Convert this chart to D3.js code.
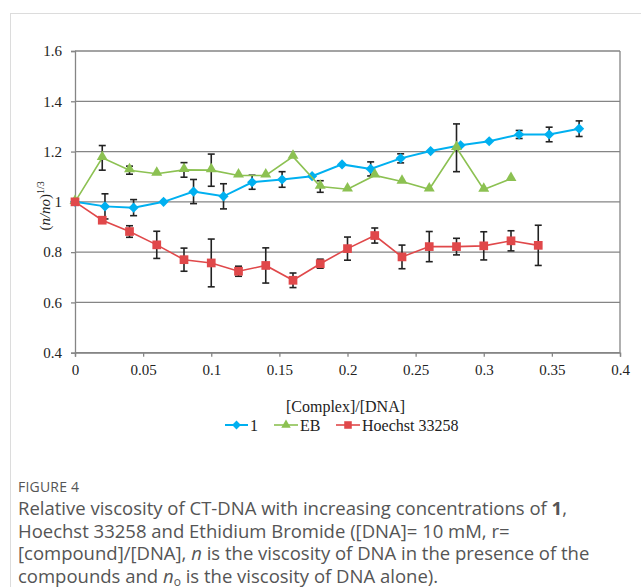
<!DOCTYPE html>
<html>
<head>
<meta charset="utf-8">
<script src="https://cdn.jsdelivr.net/npm/d3@7"></script>
<style>
  body { margin: 0; background: #fff; }
  #card { position: absolute; left: 10px; top: 13px; width: 700px; height: 620px;
          border-top: 1px solid #dcdcdc; border-left: 1px solid #dcdcdc; }
  #chart { position: absolute; left: 0; top: 0; }
  #caption { position: absolute; left: 18px; top: 476px; width: 606px;
             font-family: "Open Sans", sans-serif; color: #555; }
  #caption .fig { font-size: 14px; letter-spacing: 0.2px; line-height: 21px; }
  #caption .txt { font-size: 18.5px; line-height: 22.6px; }
  #caption sub { font-size: 12px; line-height: 0; vertical-align: -3px; }
</style>
</head>
<body>
<div id="card"></div>
<div id="chart"></div>
<div id="caption">
  <div class="fig">FIGURE 4</div>
  <div class="txt">Relative viscosity of CT-DNA with increasing concentrations of <b>1</b>, Hoechst 33258 and Ethidium Bromide ([DNA]= 10 mM, r= [compound]/[DNA], <i>n</i> is the viscosity of DNA in the presence of the compounds and <i>n</i><sub>o</sub> is the viscosity of DNA alone).</div>
</div>
<script>
// 數據
const xTicks = [0, 0.05, 0.1, 0.15, 0.2, 0.25, 0.3, 0.35, 0.4];
const yTicks = [0.4, 0.6, 0.8, 1, 1.2, 1.4, 1.6];

const x1 = [0, 0.022, 0.043, 0.065, 0.087, 0.109, 0.130, 0.152, 0.174, 0.196, 0.217, 0.239, 0.261, 0.283, 0.304, 0.326, 0.348, 0.370];
const y1 = [1.0, 0.982, 0.977, 1.0, 1.041, 1.022, 1.078, 1.089, 1.102, 1.149, 1.131, 1.173, 1.202, 1.225, 1.241, 1.268, 1.268, 1.291];
const e1 = [0.005, 0.05, 0.032, 0.008, 0.048, 0.05, 0.028, 0.031, 0.01, 0.005, 0.028, 0.018, 0.01, 0.008, 0.01, 0.016, 0.029, 0.031];

const xEB = [0, 0.02, 0.04, 0.06, 0.08, 0.10, 0.12, 0.14, 0.16, 0.18, 0.20, 0.22, 0.24, 0.26, 0.28, 0.30, 0.32];
const yEB = [1.0, 1.175, 1.126, 1.112, 1.127, 1.126, 1.105, 1.105, 1.18, 1.061, 1.05, 1.105, 1.081, 1.05, 1.215, 1.049, 1.092];
const eEB = [0, 0.049, 0.016, 0.01, 0.029, 0.064, 0, 0, 0, 0.023, 0, 0.01, 0, 0, 0.095, 0, 0.008];

const xH = [0, 0.02, 0.04, 0.06, 0.08, 0.10, 0.12, 0.14, 0.16, 0.18, 0.20, 0.22, 0.24, 0.26, 0.28, 0.30, 0.32, 0.34];
const yH = [1.0, 0.927, 0.882, 0.829, 0.770, 0.757, 0.724, 0.747, 0.688, 0.754, 0.814, 0.866, 0.781, 0.822, 0.822, 0.825, 0.845, 0.827];
const eH = [0.005, 0.01, 0.023, 0.054, 0.046, 0.095, 0.02, 0.07, 0.029, 0.018, 0.046, 0.03, 0.047, 0.06, 0.033, 0.056, 0.04, 0.08];

const seriesNames = ["1", "EB", "Hoechst 33258"];
const seriesColors = ["#00b0f0", "#8cc152", "#e0484a"];

// 設置大小
const width = 641, height = 470;
const plotL = 75, plotR = 620, plotT = 51, plotB = 352.7;

const svg = d3.select("#chart").append("svg")
    .attr("width", width).attr("height", height);

const x = d3.scaleLinear().domain([0, 0.4]).range([plotL, plotR]);
const y = d3.scaleLinear().domain([0.4, 1.6]).range([plotB, plotT]);

const serif = "'Liberation Serif', 'Times New Roman', serif";

// 網格線
svg.append("g").selectAll("line").data(yTicks).enter().append("line")
    .attr("x1", plotL).attr("x2", plotR)
    .attr("y1", d => y(d)).attr("y2", d => y(d))
    .attr("stroke", "#858585").attr("stroke-width", 1.3);

// 右邊框
svg.append("line").attr("x1", plotR).attr("x2", plotR).attr("y1", plotT).attr("y2", plotB)
    .attr("stroke", "#858585").attr("stroke-width", 1.3);

// 座標軸
const xAxis = svg.append("g").attr("transform", `translate(0,${plotB})`)
    .call(d3.axisBottom(x).tickValues(xTicks).tickSize(4).tickPadding(8)
        .tickFormat(d => String(+d.toFixed(2))));
const yAxis = svg.append("g").attr("transform", `translate(${plotL},0)`)
    .call(d3.axisLeft(y).tickValues(yTicks).tickSize(4).tickPadding(9)
        .tickFormat(d => String(+d.toFixed(1))));
[xAxis, yAxis].forEach(a => {
    a.select(".domain").attr("stroke", "#858585").attr("stroke-width", 1.3);
    a.selectAll(".tick line").attr("stroke", "#858585").attr("stroke-width", 1.3);
    a.selectAll("text").attr("font-family", serif).attr("font-size", 15).attr("fill", "#222");
});

// 軸標題
svg.append("text").attr("x", (plotL + plotR) / 2 - 2).attr("y", 412)
    .attr("text-anchor", "middle").attr("font-family", serif).attr("font-size", 16)
    .attr("fill", "#222").text("[Complex]/[DNA]");

const yt = svg.append("text").attr("transform", `translate(50,${y(1) + 4}) rotate(-90)`)
    .attr("text-anchor", "middle").attr("font-family", serif).attr("font-size", 15)
    .attr("fill", "#222");
yt.append("tspan").text("(");
yt.append("tspan").attr("font-style", "italic").text("n/no");
yt.append("tspan").text(")");
yt.append("tspan").attr("font-size", 10).attr("dy", -6).text("1/3");

// 系列
const series = [
    { xs: x1, ys: y1, es: e1, sym: d3.symbolDiamond2, size: 66, lw: 2 },
    { xs: xEB, ys: yEB, es: eEB, sym: d3.symbolTriangle, size: 52, lw: 1.6 },
    { xs: xH, ys: yH, es: eH, sym: d3.symbolSquare, size: 76, lw: 1.6 }
];
const line = d3.line().x(d => x(d[0])).y(d => y(d[1]));

series.forEach((s, i) => {
    const pts = s.xs.map((v, j) => [v, s.ys[j], s.es[j]]);
    const g = svg.append("g");
    g.append("path").datum(pts).attr("d", line)
        .attr("fill", "none").attr("stroke", seriesColors[i]).attr("stroke-width", s.lw);
    const eb = g.selectAll(".eb").data(pts.filter(d => d[2] > 0.012)).enter().append("g")
        .attr("stroke", "#222").attr("stroke-width", 1.6);
    eb.append("line").attr("x1", d => x(d[0])).attr("x2", d => x(d[0]))
        .attr("y1", d => y(d[1] - d[2])).attr("y2", d => y(d[1] + d[2]));
    eb.append("line").attr("x1", d => x(d[0]) - 3.5).attr("x2", d => x(d[0]) + 3.5)
        .attr("y1", d => y(d[1] - d[2])).attr("y2", d => y(d[1] - d[2]));
    eb.append("line").attr("x1", d => x(d[0]) - 3.5).attr("x2", d => x(d[0]) + 3.5)
        .attr("y1", d => y(d[1] + d[2])).attr("y2", d => y(d[1] + d[2]));
    g.selectAll(".m").data(pts).enter().append("path")
        .attr("d", d3.symbol().type(s.sym).size(s.size))
        .attr("transform", d => `translate(${x(d[0])},${y(d[1]) - (i === 1 ? 1 : 0)})`)
        .attr("fill", seriesColors[i]);
});

// 圖例
const legendItems = [
    { x: 225, w: 23 }, { x: 274, w: 24 }, { x: 336, w: 24 }
];
const lg = svg.append("g");
legendItems.forEach((it, i) => {
    const ly = 425;
    lg.append("line").attr("x1", it.x).attr("x2", it.x + it.w).attr("y1", ly).attr("y2", ly)
        .attr("stroke", seriesColors[i]).attr("stroke-width", series[i].lw);
    lg.append("path").attr("d", d3.symbol().type(series[i].sym).size(series[i].size * 0.75))
        .attr("transform", `translate(${it.x + it.w / 2},${ly})`).attr("fill", seriesColors[i]);
    lg.append("text").attr("x", it.x + it.w + 2).attr("y", ly + 5.5)
        .attr("font-family", serif).attr("font-size", 16).attr("fill", "#222")
        .text(seriesNames[i]);
});
</script>
</body>
</html>
